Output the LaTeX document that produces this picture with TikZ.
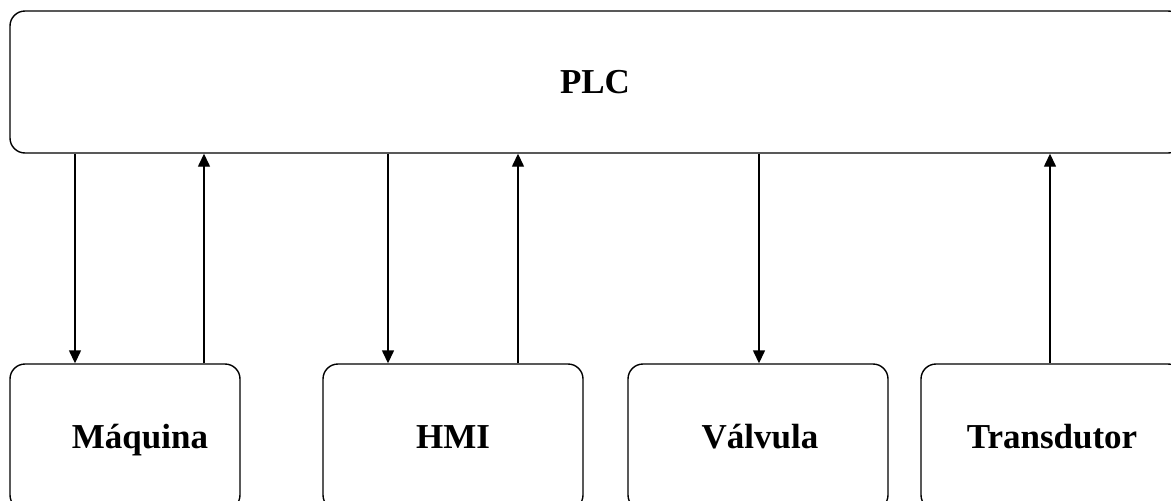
\documentclass[tikz,border=0pt]{standalone}
\usepackage{fontspec}
\setmainfont{Liberation Serif}
\usetikzlibrary{arrows.meta}
\begin{document}
\begin{tikzpicture}[x=1pt,y=-1pt,
  blk/.style={draw, line width=1.4pt, rounded corners=15pt, inner sep=0pt},
  lbl/.style={font=\bfseries\fontsize{35}{40}\selectfont, inner sep=0pt, anchor=base},
  sig/.style={line width=1.4pt, -{Triangle[length=13pt,width=12pt]}}]
  \useasboundingbox (0,0) rectangle (1171,501);
  \fill[white] (0,0) rectangle (1171,501);
  \clip (0,0) rectangle (1171,501);

  % controller
  \node[blk, minimum width=1173pt, minimum height=142pt] (plc) at (596.5,82) {};
  \node[lbl] (plcT) at (595,93) {PLC};

  % field devices
  \node[blk, minimum width=230pt, minimum height=146pt] (maq) at (125,437) {};
  \node[blk, minimum width=260pt, minimum height=146pt] (hmi) at (453,437) {};
  \node[blk, minimum width=260pt, minimum height=146pt] (val) at (758,437) {};
  \node[blk, minimum width=262pt, minimum height=146pt] (tra) at (1052,437) {};

  \node[lbl] (maqT) at (140,448) {Máquina};
  \node[lbl] (hmiT) at (453,448) {HMI};
  \node[lbl] (valT) at (760,448) {Válvula};
  \node[lbl] (traT) at (1052,448) {Transdutor};

  % connector columns
  \coordinate (c1) at (75,0);
  \coordinate (c2) at (204,0);
  \coordinate (c3) at (388,0);
  \coordinate (c4) at (518,0);
  \coordinate (c5) at (759,0);
  \coordinate (c6) at (1050,0);

  \draw[sig] (plc.south -| c1) -- (maq.north -| c1);
  \draw[sig] (maq.north -| c2) -- (plc.south -| c2);
  \draw[sig] (plc.south -| c3) -- (hmi.north -| c3);
  \draw[sig] (hmi.north -| c4) -- (plc.south -| c4);
  \draw[sig] (plc.south -| c5) -- (val.north -| c5);
  \draw[sig] (tra.north -| c6) -- (plc.south -| c6);
\end{tikzpicture}
\end{document}
